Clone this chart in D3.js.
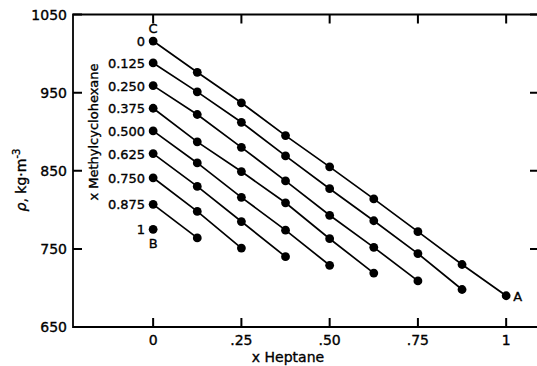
<!DOCTYPE html>
<html>
<head>
<meta charset="utf-8">
<script src="https://cdn.jsdelivr.net/npm/d3@7"></script>
<style>
  body { margin: 0; background: #fff; }
  svg text { font-family: "DejaVu Sans", sans-serif; fill: #000; stroke: #000; stroke-width: 0.35px; }
</style>
</head>
<body>
<svg id="chart" width="537" height="366"></svg>
<script>
// x heptane steps along each line
const heptaneSteps = [0, 0.125, 0.25, 0.375, 0.5, 0.625, 0.75, 0.875, 1];
// starting x methylcyclohexane of each line
const mchLabels = ['0', '0.125', '0.250', '0.375', '0.500', '0.625', '0.750', '0.875', '1'];
// density, kg/m3
const densities = [
  [1016, 976, 937, 895, 855, 814, 772, 730, 690],
  [988, 951, 912, 869, 827, 786, 744, 698],
  [959, 922, 880, 837, 793, 752, 709],
  [930, 887, 849, 809, 763, 719],
  [901, 860, 816, 774, 729],
  [872, 830, 785, 740],
  [841, 798, 751],
  [807, 764],
  [775]
];
const xTicks = [0, 0.25, 0.5, 0.75, 1];
const xTickLabels = ['0', '.25', '.50', '.75', '1'];
const yTicks = [650, 750, 850, 950, 1050];

const svg = d3.select('#chart');
const mLeft = 73, mRight = 539, mTop = 14.5, mBottom = 327;
const tickLen = 9;

const x = d3.scaleLinear().domain([-0.227, 1.093]).range([mLeft, mRight]);
const y = d3.scaleLinear().domain([650, 1050]).range([mBottom, mTop]);

// frame
svg.append('path')
  .attr('d', `M${mRight},${mTop}H${mLeft}V${mBottom}H${mRight}V${mTop}`)
  .attr('fill', 'none').attr('stroke', '#000').attr('stroke-width', 1.8);

// ticks pointing inward on all four sides
const tickPath = d3.path();
xTicks.forEach(v => {
  tickPath.moveTo(x(v), mBottom); tickPath.lineTo(x(v), mBottom - tickLen);
  tickPath.moveTo(x(v), mTop); tickPath.lineTo(x(v), mTop + tickLen);
});
yTicks.forEach(v => {
  tickPath.moveTo(mLeft, y(v)); tickPath.lineTo(mLeft + tickLen, y(v));
  tickPath.moveTo(mRight, y(v)); tickPath.lineTo(mRight - tickLen, y(v));
});
svg.append('path').attr('d', tickPath.toString())
  .attr('fill', 'none').attr('stroke', '#000').attr('stroke-width', 2);

// tick labels
svg.append('g').selectAll('text').data(xTicks).join('text')
  .attr('x', d => x(d)).attr('y', mBottom + 18)
  .attr('text-anchor', 'middle').attr('font-size', 14)
  .text((d, i) => xTickLabels[i]);
svg.append('g').selectAll('text').data(yTicks).join('text')
  .attr('x', mLeft - 6).attr('y', d => y(d) + 5)
  .attr('text-anchor', 'end').attr('font-size', 14)
  .text(d3.format('d'));

// lines and points
const line = d3.line().x(d => x(d[0])).y(d => y(d[1]));
densities.forEach((vals, i) => {
  const pts = vals.map((v, j) => [heptaneSteps[j], v]);
  const g = svg.append('g');
  if (pts.length > 1) {
    g.append('path').attr('d', line(pts)).attr('fill', 'none').attr('stroke', '#000').attr('stroke-width', 1.7);
  }
  g.selectAll('circle').data(pts).join('circle')
    .attr('cx', d => x(d[0])).attr('cy', d => y(d[1])).attr('r', 4.4).attr('fill', '#000');
  g.append('text')
    .attr('x', x(0) - 8).attr('y', y(vals[0]) + 5)
    .attr('text-anchor', 'end').attr('font-size', 13)
    .text(mchLabels[i]);
});

// corner labels
svg.append('text').attr('x', x(0)).attr('y', y(densities[0][0]) - 8)
  .attr('text-anchor', 'middle').attr('font-size', 13).text('C');
svg.append('text').attr('x', x(0)).attr('y', y(densities[8][0]) + 19)
  .attr('text-anchor', 'middle').attr('font-size', 13).text('B');
svg.append('text').attr('x', x(1) + 7).attr('y', y(densities[0][8]) + 5)
  .attr('font-size', 13).text('A');

// axis titles
svg.append('text').attr('x', 288).attr('y', 362)
  .attr('text-anchor', 'middle').attr('font-size', 14).text('x Heptane');
svg.append('text').attr('transform', 'translate(98,132) rotate(-90)')
  .attr('text-anchor', 'middle').attr('font-size', 13).text('x Methylcyclohexane');
const yl = svg.append('text').attr('transform', 'translate(26,180) rotate(-90)')
  .attr('text-anchor', 'middle').attr('font-size', 14);
yl.append('tspan').attr('font-style', 'italic').text('ρ');
yl.append('tspan').text(', kg·m');
yl.append('tspan').attr('dy', -6).attr('font-size', 10).text('-3');
</script>
</body>
</html>
